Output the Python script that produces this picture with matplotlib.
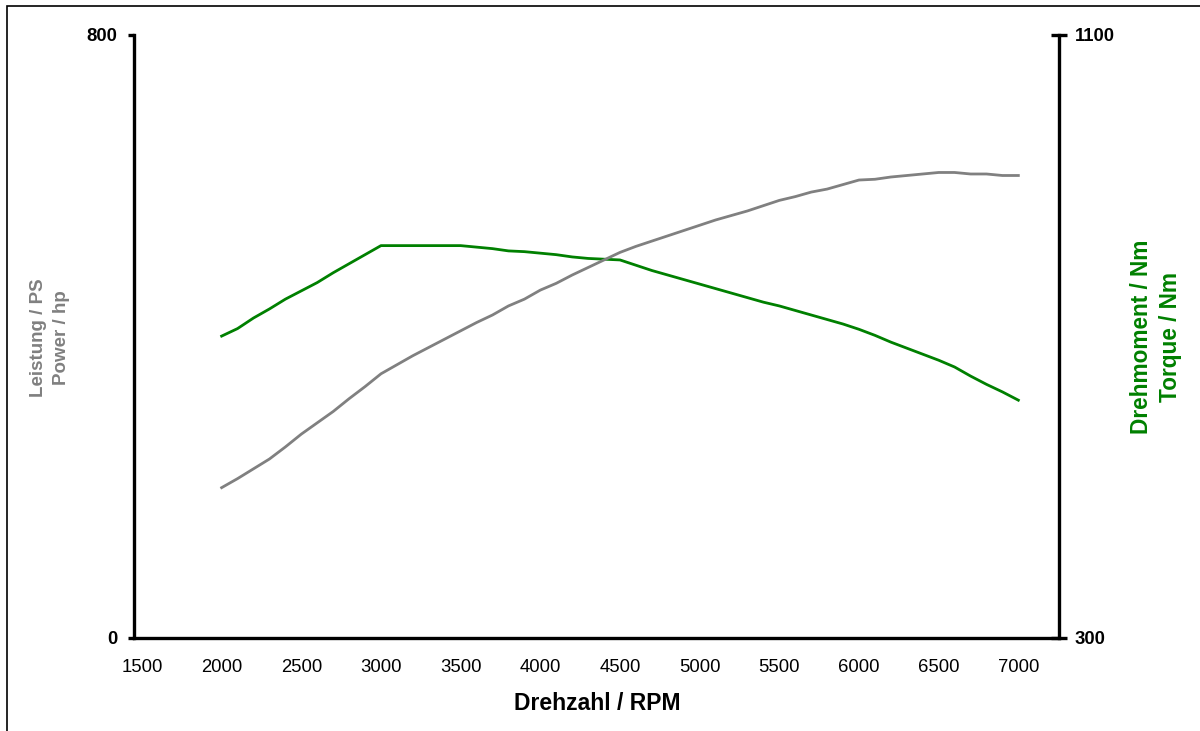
import matplotlib
matplotlib.use("Agg")
import matplotlib.pyplot as plt
from matplotlib.patches import Rectangle

plt.rcParams['font.family'] = ['Liberation Sans', 'DejaVu Sans']

rpm = [2000, 2100, 2200, 2300, 2400, 2500, 2600, 2700, 2800, 2900,
       3000, 3100, 3200, 3300, 3400, 3500, 3600, 3700, 3800, 3900,
       4000, 4100, 4200, 4300, 4400, 4500, 4600, 4700, 4800, 4900,
       5000, 5100, 5200, 5300, 5400, 5500, 5600, 5700, 5800, 5900,
       6000, 6100, 6200, 6300, 6400, 6500, 6600, 6700, 6800, 6900, 7000]

power_ps = [199, 211, 224, 237, 253, 270, 285, 300, 317, 333,
            350, 362, 374, 385, 396, 407, 418, 428, 440, 449,
            461, 470, 481, 491, 501, 511, 519, 526, 533, 540,
            547, 554, 560, 566, 573, 580, 585, 591, 595, 601,
            607, 608, 611, 613, 615, 617, 617, 615, 615, 613, 613]

torque_nm = [700, 710, 724, 736, 749, 760, 771, 784, 796, 808,
             820, 820, 820, 820, 820, 820, 818, 816, 813, 812,
             810, 808, 805, 803, 802, 801, 794, 787, 781, 775,
             769, 763, 757, 751, 745, 740, 734, 728, 722, 716,
             709, 701, 692, 684, 676, 668, 659, 647, 636, 626, 615]

x_ticks = [1500, 2000, 2500, 3000, 3500, 4000, 4500, 5000, 5500, 6000, 6500, 7000]
left_ticks = [0, 800]
right_ticks = [300, 1100]

GRAY = '#808080'
GREEN = '#008000'

fig = plt.figure(figsize=(12, 7.31), dpi=100)
ax = fig.add_axes([134/1200, 1 - 637.7/731, (1058.5 - 134)/1200, (637.7 - 34.5)/731])
ax2 = ax.twinx()

ax.plot(rpm, power_ps, color=GRAY, lw=2.0, solid_joinstyle='round')
ax2.plot(rpm, torque_nm, color=GREEN, lw=2.0, solid_joinstyle='round')

ax.set_zorder(ax2.get_zorder() + 1)
ax.patch.set_visible(False)

ax.set_xlim(1450, 7252)
ax.set_ylim(0, 800)
ax2.set_ylim(300, 1100)

ax.set_xticks(x_ticks)
ax.set_xticklabels([str(v) for v in x_ticks], fontsize=13.3)
ax.tick_params(axis='x', length=0, pad=15.5)

ax.set_yticks(left_ticks)
ax.set_yticklabels([str(v) for v in left_ticks], fontsize=13.3, fontweight='bold')
ax.tick_params(axis='y', direction='out', length=4.5, width=2.4, pad=7.5)

ax2.set_yticks(right_ticks)
ax2.set_yticklabels([str(v) for v in right_ticks], fontsize=13.3, fontweight='bold')
ax2.tick_params(axis='y', direction='inout', length=11, width=2.4, pad=6)

for s in ['top', 'right']:
    ax.spines[s].set_visible(False)
for s in ['left', 'bottom']:
    ax.spines[s].set_linewidth(2.4)
for s in ['top', 'left', 'bottom']:
    ax2.spines[s].set_visible(False)
ax2.spines['right'].set_linewidth(2.4)

fig.text(597/1200, 1 - 703/731, 'Drehzahl / RPM', ha='center', va='center',
         fontsize=16.5, fontweight='bold')
fig.text(50/1200, 1 - 338/731, 'Leistung / PS\nPower / hp', ha='center', va='center',
         rotation=90, fontsize=13.5, fontweight='bold', color=GRAY,
         multialignment='center', linespacing=1.5)
fig.text(1156/1200, 1 - 337/731, 'Drehmoment / Nm\nTorque / Nm', ha='center', va='center',
         rotation=90, fontsize=16.3, fontweight='bold', color=GREEN,
         multialignment='center', linespacing=1.3)

fig.patches.append(Rectangle((7/1200, -0.2), 1.2, 1.2 - 6/731, transform=fig.transFigure,
                             fill=False, edgecolor='black', lw=1.2))

fig.savefig('out.png', dpi=100)
